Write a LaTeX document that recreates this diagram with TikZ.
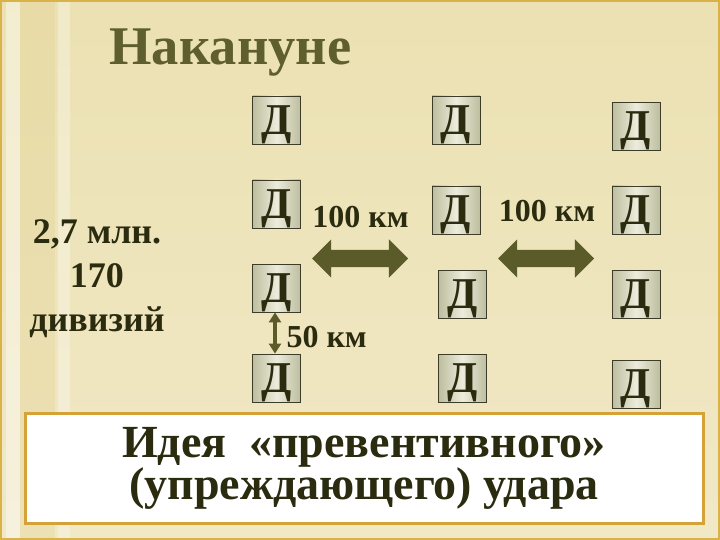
\documentclass[tikz,border=0pt]{standalone}
\usepackage{fontspec}
\setmainfont{Liberation Serif}
\usepackage{xcolor}
\usetikzlibrary{shapes.arrows,arrows.meta}

\definecolor{bgtop}{HTML}{EBE1B2}
\definecolor{bgmid}{HTML}{FCFAF0}
\definecolor{bgbot}{HTML}{F1E8C6}
\definecolor{stripband}{HTML}{E2D08E}
\definecolor{frameline}{HTML}{D9B24A}
\definecolor{goldline}{HTML}{D4A236}
\definecolor{titleolive}{HTML}{5E5E2E}
\definecolor{textolive}{HTML}{2B2B0F}
\definecolor{arrowolive}{HTML}{5B5B2A}
\definecolor{boxedge}{HTML}{3C3C28}
\definecolor{boxdark}{HTML}{BDBD9E}
\definecolor{boxlight}{HTML}{ECECDC}

\newcommand\ideafont{\fontsize{46}{42}\selectfont\bfseries\lineskiplimit=-60pt\relax}

\tikzset{
  divbox/.style={draw=boxedge, line width=0.8pt, inner sep=0pt, minimum size=48pt,
    left color=boxdark, right color=boxdark, middle color=boxlight, text depth=0pt,
    text=textolive, font=\fontsize{44}{44}\selectfont\bfseries},
  kmlabel/.style={anchor=base, text=textolive, font=\fontsize{32}{32}\selectfont\bfseries},
  bigarrow/.style={double arrow, fill=arrowolive, inner xsep=0pt, inner ysep=8.5pt,
    minimum height=96pt, double arrow head extend=10.5pt},
}

\begin{document}
\begin{tikzpicture}[x=1pt, y=-1pt]
    % background
    \shade[top color=bgtop, middle color=bgmid, bottom color=bgbot] (0,0) rectangle (720,540);
    \fill[stripband, opacity=0.3] (20,0) rectangle (55,540);
    \fill[white, opacity=0.4] (6,0) rectangle (20,540);
    \fill[white, opacity=0.3] (58,0) rectangle (70,540);
    \draw[frameline, line width=2pt] (1,1) rectangle (719,539);
    \useasboundingbox (0,0) rectangle (720,540);

    \node[anchor=base west, text=titleolive, font=\fontsize{54.5}{55}\selectfont\bfseries]
        (title) at (106,65) {Накануне};

    \node[align=center, text=textolive, font=\fontsize{36}{44}\selectfont\bfseries]
        (army) at (97,279) {2,7 млн.\\170\\дивизий};

    \node[divbox] (d11) at (276.5,120) {Д}; % row 1
    \node[divbox] (d12) at (456,120) {Д};
    \node[divbox] (d13) at (636,126.5) {Д};
    \node[divbox] (d21) at (276.5,204) {Д}; % row 2
    \node[divbox] (d22) at (456,210) {Д};
    \node[divbox] (d23) at (636,210) {Д};
    \node[divbox] (d31) at (276.5,288) {Д}; % row 3
    \node[divbox] (d32) at (462.5,294) {Д};
    \node[divbox] (d33) at (636,294) {Д};
    \node[divbox] (d41) at (276.5,378) {Д}; % row 4
    \node[divbox] (d42) at (462.5,378) {Д};
    \node[divbox] (d43) at (636,384) {Д};

    \node[kmlabel] (km1) at (360.5,227) {100 км};
    \node[kmlabel] (km2) at (547,222) {100 км};
    \node[bigarrow] (gap1) at (360,258.5) {};
    \node[bigarrow] (gap2) at (546,258.5) {};

    \draw[arrowolive, line width=3.5pt, {Triangle[width=12pt,length=10pt]}-{Triangle[width=12pt,length=10pt]}]
        (d31.south -| 275,0) -- (d41.north -| 275,0);
    \node[kmlabel, anchor=base west] (km3) at (283,347) {50 км};

    \node[draw=goldline, line width=3pt, fill=white, minimum width=678pt, minimum height=110pt,
          align=center, text=textolive, font=\ideafont]
        (idea) at (364,468) {Идея \ «превентивного»\\(упреждающего) удара};
\end{tikzpicture}
\end{document}
